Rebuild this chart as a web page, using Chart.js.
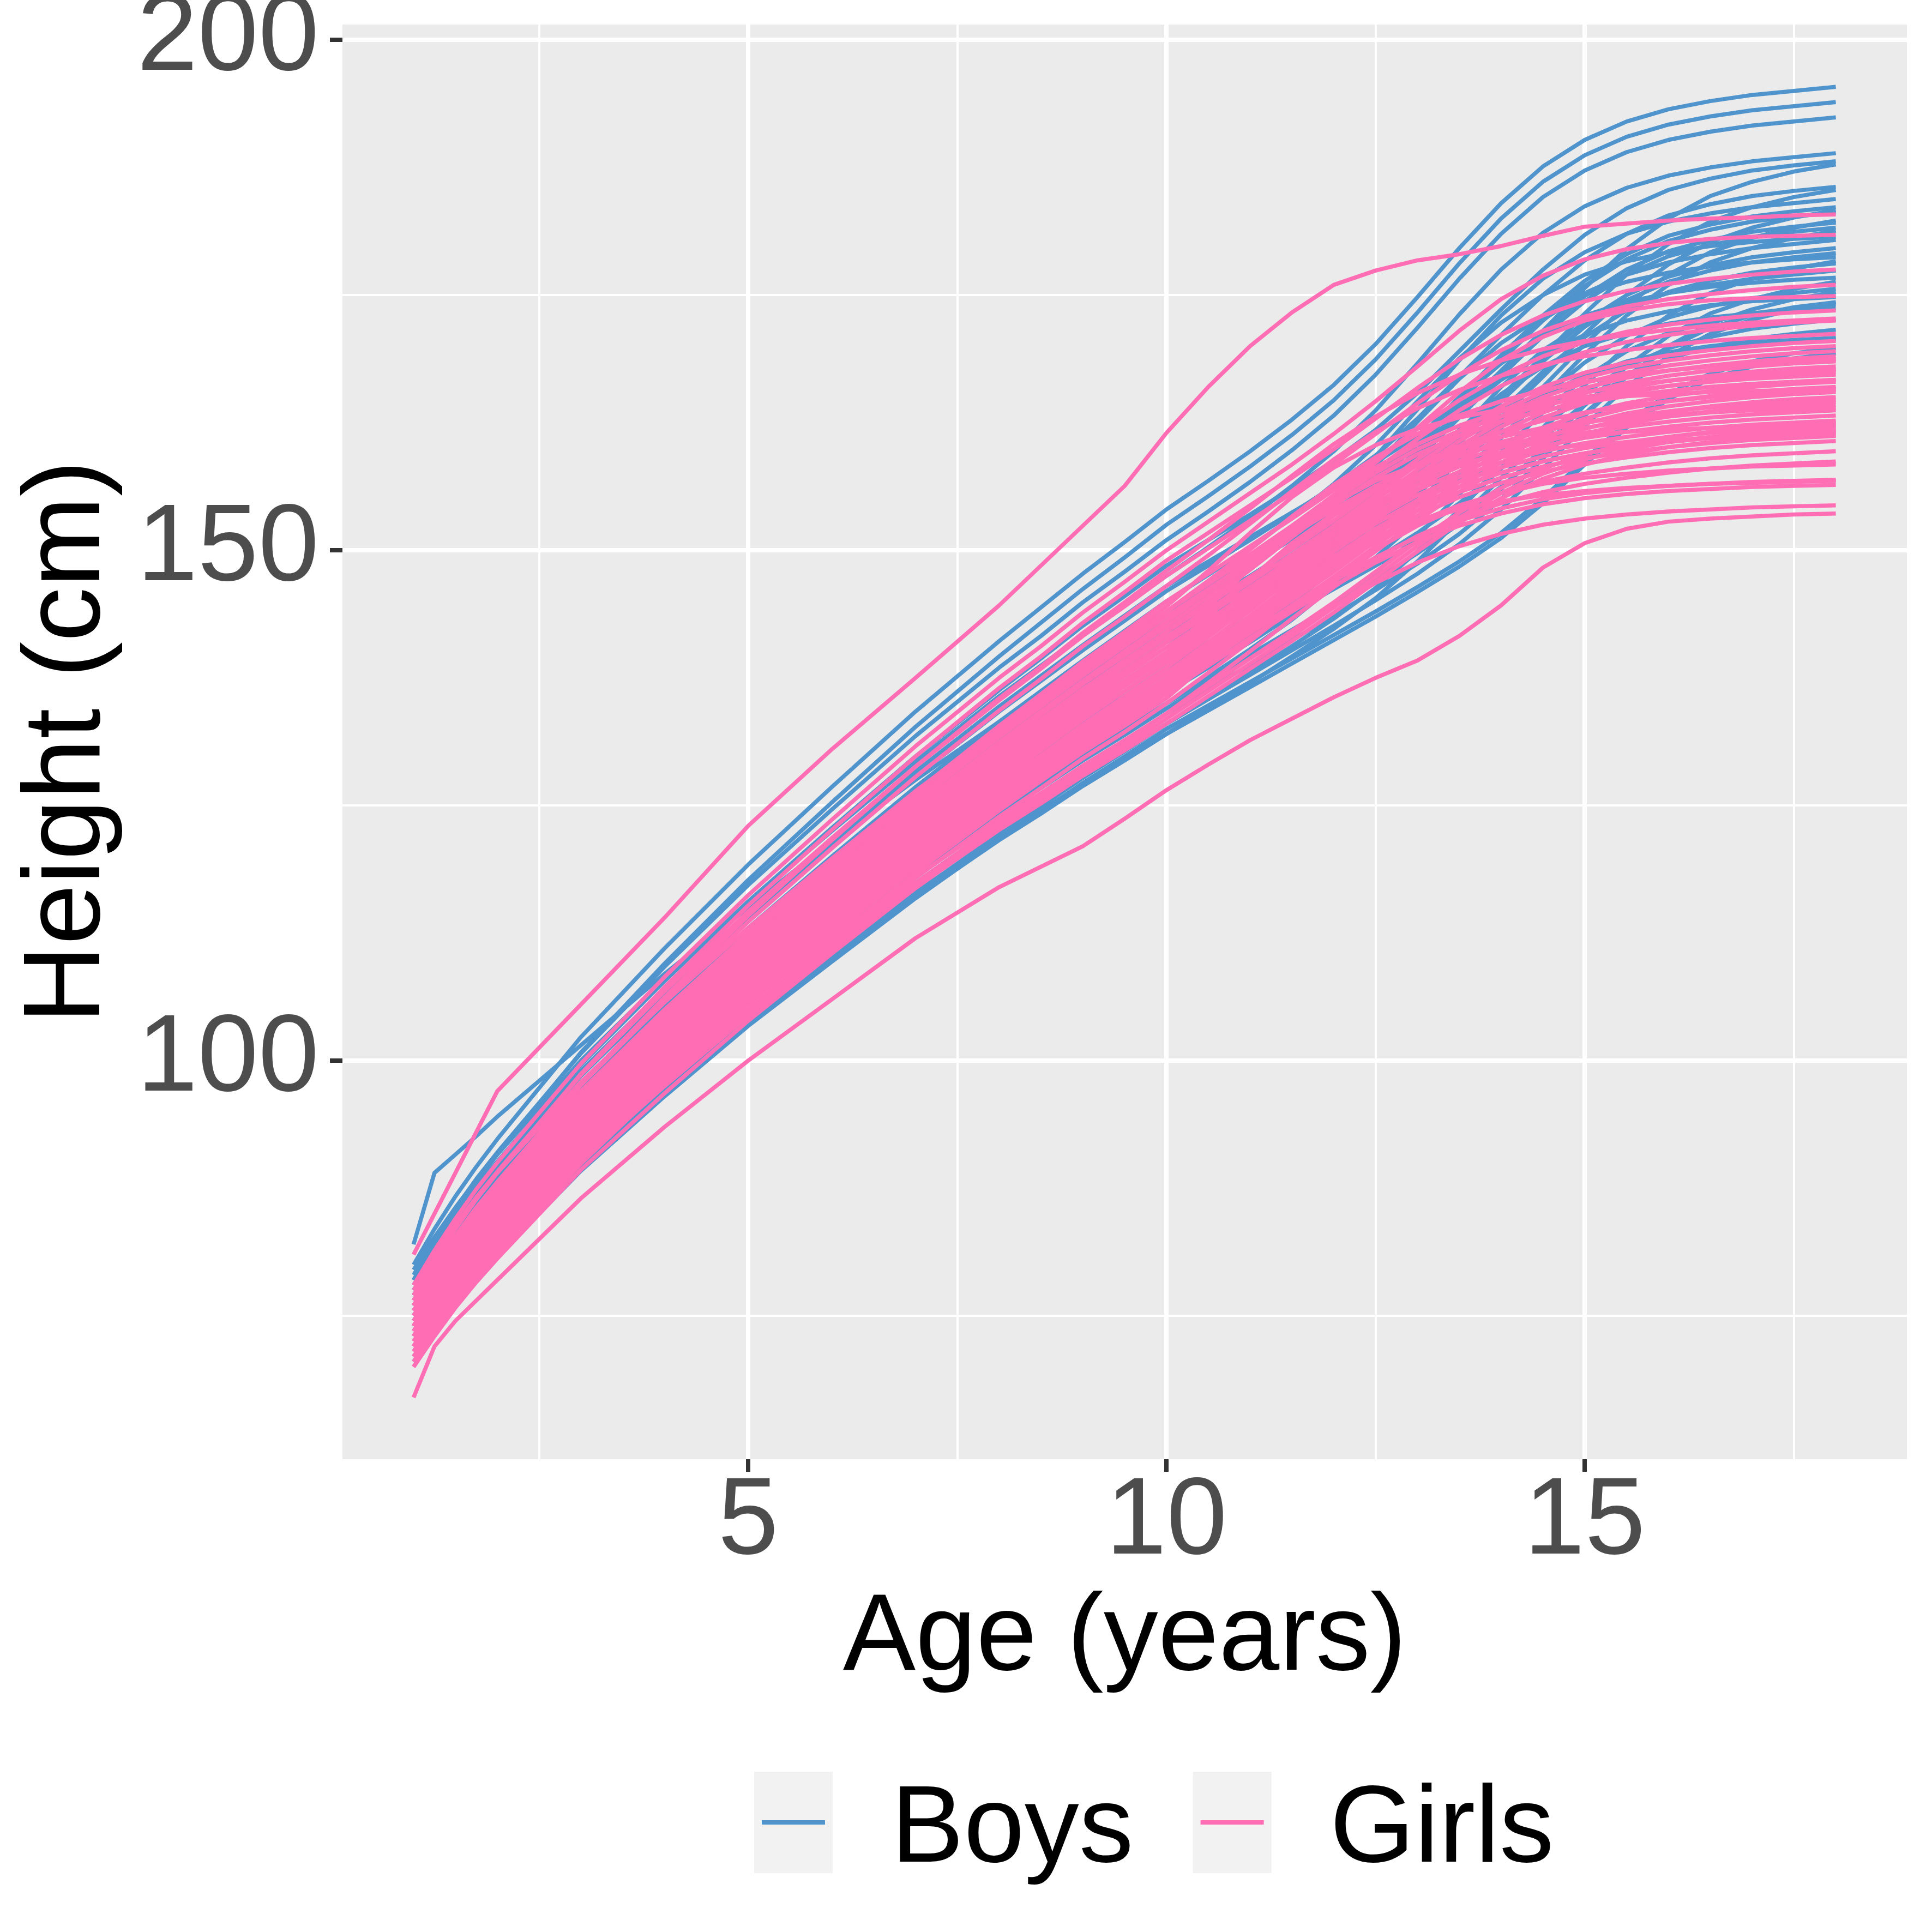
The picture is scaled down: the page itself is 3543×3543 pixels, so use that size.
<!DOCTYPE html>
<html>
<head>
<meta charset="utf-8">
<title>Height growth curves</title>
<script src="https://cdn.jsdelivr.net/npm/chart.js@4.4.1/dist/chart.umd.min.js"></script>
<style>
  html, body { margin: 0; padding: 0; background: #ffffff; }
  #growth { display: block; }
</style>
</head>
<body>
<canvas id="growth" width="3543" height="3543"></canvas>
<script>
// measurement ages (years)
const ages = [1, 1.25, 1.5, 1.75, 2, 3, 4, 5, 6, 7, 8, 8.5, 9, 9.5, 10, 10.5, 11, 11.5, 12, 12.5, 13, 13.5, 14, 14.5, 15, 15.5, 16, 16.5, 17, 17.5, 18];

// one row per boy, heights in cm
const boyHeights = [
  [80, 83.5, 86.7, 89.6, 92.3, 102.3, 111.0, 119.2, 126.8, 134.2, 141.1, 144.4, 147.7, 150.8, 154.0, 156.8, 159.7, 162.8, 166.2, 170.2, 174.8, 179.6, 184.0, 187.6, 190.2, 192.0, 193.2, 194.0, 194.6, 195.0, 195.4],
  [78.5, 82.0, 85.2, 88.1, 90.8, 100.8, 109.5, 117.7, 125.3, 132.7, 139.6, 142.9, 146.2, 149.3, 152.5, 155.3, 158.2, 161.3, 164.7, 168.7, 173.3, 178.1, 182.5, 186.1, 188.7, 190.5, 191.7, 192.5, 193.1, 193.5, 193.9],
  [79, 82.4, 85.5, 88.4, 91.0, 100.7, 109.2, 117.2, 124.6, 131.8, 138.5, 141.6, 144.9, 147.9, 151.0, 153.8, 156.7, 159.8, 163.2, 167.2, 171.8, 176.6, 181.0, 184.6, 187.2, 189.0, 190.2, 191.0, 191.6, 192.0, 192.4],
  [82, 89, 90.8, 92.6, 94.5, 101.5, 108.5, 115.0, 121.5, 127.5, 133.2, 136.0, 138.7, 141.3, 144.0, 146.5, 149.0, 151.6, 154.3, 157.3, 160.9, 165.0, 169.1, 173.0, 176.4, 179.0, 180.8, 181.9, 182.7, 183.2, 183.6],
  [78.5, 81.8, 84.8, 87.6, 90.1, 99.6, 107.8, 115.6, 122.8, 129.8, 136.3, 139.4, 142.6, 145.5, 148.5, 151.0, 153.5, 156.1, 158.8, 161.8, 165.4, 169.5, 173.6, 177.5, 180.9, 183.5, 185.3, 186.4, 187.2, 187.7, 188.1],
  [79.5, 82.7, 85.6, 88.3, 90.8, 100.0, 108.0, 115.5, 122.5, 129.3, 135.7, 138.7, 141.7, 144.6, 147.5, 150.3, 153.2, 156.3, 159.7, 163.7, 168.3, 173.1, 177.5, 181.1, 183.7, 185.5, 186.7, 187.5, 188.1, 188.5, 188.9],
  [78.5, 81.7, 84.6, 87.3, 89.8, 99.0, 107.0, 114.5, 121.5, 128.3, 134.7, 137.7, 140.7, 143.6, 146.5, 148.9, 151.3, 153.7, 156.1, 158.6, 161.2, 164.1, 167.5, 171.5, 175.7, 179.5, 182.5, 184.7, 186.1, 187.1, 187.8],
  [78, 81.2, 84.1, 86.8, 89.3, 98.5, 106.5, 114.0, 121.0, 127.8, 134.2, 137.2, 140.2, 143.1, 146.0, 148.5, 151.0, 153.6, 156.3, 159.3, 162.9, 167.0, 171.1, 175.0, 178.4, 181.0, 182.8, 183.9, 184.7, 185.2, 185.6],
  [76, 79.2, 82.1, 84.8, 87.3, 96.5, 104.5, 112.0, 119.0, 125.8, 132.2, 135.2, 138.2, 141.1, 144.0, 146.4, 148.8, 151.2, 153.6, 156.1, 158.7, 161.6, 165.0, 169.0, 173.2, 177.0, 180.0, 182.2, 183.6, 184.6, 185.3],
  [77, 80.1, 82.9, 85.6, 88.0, 96.9, 104.7, 112.0, 118.8, 125.4, 131.5, 134.4, 137.4, 140.2, 143.0, 145.8, 148.7, 151.8, 155.2, 159.2, 163.8, 168.6, 173.0, 176.6, 179.2, 181.0, 182.2, 183.0, 183.6, 184.0, 184.4],
  [76.5, 79.6, 82.4, 85.1, 87.5, 96.4, 104.2, 111.5, 118.3, 124.9, 131.0, 133.9, 136.9, 139.7, 142.5, 145.0, 147.5, 150.1, 152.8, 155.8, 159.4, 163.5, 167.6, 171.5, 174.9, 177.5, 179.3, 180.4, 181.2, 181.7, 182.1],
  [75, 78.2, 81.1, 83.8, 86.3, 95.5, 103.5, 111.0, 118.0, 124.8, 131.2, 134.2, 137.2, 140.1, 143.0, 145.6, 148.3, 151.2, 154.5, 158.3, 162.6, 166.8, 170.3, 173.0, 175.0, 176.3, 177.2, 177.8, 178.2, 178.5, 178.7],
  [76, 79.1, 81.9, 84.6, 87.0, 95.9, 103.7, 111.0, 117.8, 124.4, 130.5, 133.4, 136.4, 139.2, 142.0, 144.4, 146.8, 149.2, 151.6, 154.1, 156.7, 159.6, 163.0, 167.0, 171.2, 175.0, 178.0, 180.2, 181.6, 182.6, 183.3],
  [78, 81.0, 83.8, 86.3, 88.6, 97.3, 104.8, 111.9, 118.5, 124.9, 130.9, 133.7, 136.6, 139.2, 142.0, 144.5, 147.0, 149.6, 152.3, 155.3, 158.9, 163.0, 167.1, 171.0, 174.4, 177.0, 178.8, 179.9, 180.7, 181.2, 181.6],
  [77.5, 80.6, 83.4, 86.1, 88.5, 97.4, 105.2, 112.5, 119.3, 125.9, 132.0, 134.9, 137.9, 140.7, 143.5, 146.0, 148.5, 151.1, 153.8, 156.8, 160.4, 164.5, 168.6, 172.5, 175.9, 178.5, 180.3, 181.4, 182.2, 182.7, 183.1],
  [75, 78.1, 80.9, 83.6, 86.0, 94.9, 102.7, 110.0, 116.8, 123.4, 129.5, 132.4, 135.4, 138.2, 141.0, 143.4, 145.8, 148.2, 150.6, 153.1, 155.7, 158.6, 162.0, 166.0, 170.2, 174.0, 177.0, 179.2, 180.6, 181.6, 182.3],
  [77, 80.0, 82.8, 85.3, 87.6, 96.3, 103.8, 110.9, 117.5, 123.9, 129.9, 132.7, 135.6, 138.2, 141.0, 143.6, 146.3, 149.2, 152.5, 156.3, 160.6, 164.8, 168.3, 171.0, 173.0, 174.3, 175.2, 175.8, 176.2, 176.5, 176.7],
  [76, 79.0, 81.8, 84.3, 86.6, 95.3, 102.8, 109.9, 116.5, 122.9, 128.9, 131.7, 134.6, 137.2, 140.0, 142.5, 145.0, 147.6, 150.3, 153.3, 156.9, 161.0, 165.1, 169.0, 172.4, 175.0, 176.8, 177.9, 178.7, 179.2, 179.6],
  [74, 77.1, 79.9, 82.6, 85.0, 93.9, 101.7, 109.0, 115.8, 122.4, 128.5, 131.4, 134.4, 137.2, 140.0, 142.4, 144.8, 147.2, 149.6, 152.1, 154.7, 157.6, 161.0, 165.0, 169.2, 173.0, 176.0, 178.2, 179.6, 180.6, 181.3],
  [77.5, 80.4, 83.1, 85.6, 87.8, 96.2, 103.5, 110.4, 116.7, 122.9, 128.7, 131.4, 134.2, 136.8, 139.5, 142.0, 144.5, 147.1, 149.8, 152.8, 156.4, 160.5, 164.6, 168.5, 171.9, 174.5, 176.3, 177.4, 178.2, 178.7, 179.1],
  [75, 78.0, 80.8, 83.3, 85.6, 94.3, 101.8, 108.9, 115.5, 121.9, 127.9, 130.7, 133.6, 136.2, 139.0, 141.8, 144.7, 147.8, 151.2, 155.2, 159.8, 164.6, 169.0, 172.6, 175.2, 177.0, 178.2, 179.0, 179.6, 180.0, 180.4],
  [76, 78.9, 81.6, 84.1, 86.3, 94.7, 102.0, 108.9, 115.2, 121.4, 127.2, 129.9, 132.7, 135.3, 138.0, 140.6, 143.3, 146.2, 149.5, 153.3, 157.6, 161.8, 165.3, 168.0, 170.0, 171.3, 172.2, 172.8, 173.2, 173.5, 173.7],
  [74.5, 77.5, 80.3, 82.8, 85.1, 93.8, 101.3, 108.4, 115.0, 121.4, 127.4, 130.2, 133.1, 135.7, 138.5, 141.0, 143.5, 146.1, 148.8, 151.8, 155.4, 159.5, 163.6, 167.5, 170.9, 173.5, 175.3, 176.4, 177.2, 177.7, 178.1],
  [75, 77.9, 80.6, 83.1, 85.3, 93.7, 101.0, 107.9, 114.2, 120.4, 126.2, 128.9, 131.7, 134.3, 137.0, 139.4, 141.8, 144.2, 146.6, 149.1, 151.7, 154.6, 158.0, 162.0, 166.2, 170.0, 173.0, 175.2, 176.6, 177.6, 178.3],
  [76, 78.8, 81.4, 83.8, 86.0, 94.1, 101.1, 107.8, 114.0, 120.0, 125.6, 128.2, 130.9, 133.4, 136.0, 138.5, 141.0, 143.6, 146.3, 149.3, 152.9, 157.0, 161.1, 165.0, 168.4, 171.0, 172.8, 173.9, 174.7, 175.2, 175.6],
  [73, 76.0, 78.8, 81.3, 83.6, 92.3, 99.8, 106.9, 113.5, 119.9, 125.9, 128.7, 131.6, 134.2, 137.0, 139.3, 141.6, 143.9, 146.2, 148.5, 150.9, 153.4, 156.2, 159.6, 163.4, 167.0, 169.8, 171.8, 173.0, 173.8, 174.3],
  [74, 76.9, 79.6, 82.1, 84.3, 92.7, 100.0, 106.9, 113.2, 119.4, 125.2, 127.9, 130.7, 133.3, 136.0, 138.8, 141.7, 144.8, 148.2, 152.2, 156.8, 161.6, 166.0, 169.6, 172.2, 174.0, 175.2, 176.0, 176.6, 177.0, 177.4],
  [75, 77.8, 80.4, 82.8, 85.0, 93.1, 100.1, 106.8, 113.0, 119.0, 124.6, 127.2, 129.9, 132.4, 135.0, 137.4, 139.8, 142.2, 144.6, 147.1, 149.7, 152.6, 156.0, 160.0, 164.2, 168.0, 171.0, 173.2, 174.6, 175.6, 176.3],
  [73, 75.9, 78.6, 81.1, 83.3, 91.7, 99.0, 105.9, 112.2, 118.4, 124.2, 126.9, 129.7, 132.3, 135.0, 137.6, 140.3, 143.2, 146.5, 150.3, 154.6, 158.8, 162.3, 165.0, 167.0, 168.3, 169.2, 169.8, 170.2, 170.5, 170.7],
  [74.5, 77.3, 79.9, 82.3, 84.5, 92.6, 99.6, 106.3, 112.5, 118.5, 124.1, 126.7, 129.4, 131.9, 134.5, 137.0, 139.5, 142.1, 144.8, 147.8, 151.4, 155.5, 159.6, 163.5, 166.9, 169.5, 171.3, 172.4, 173.2, 173.7, 174.1],
  [72, 74.9, 77.6, 80.1, 82.3, 90.7, 98.0, 104.9, 111.2, 117.4, 123.2, 125.9, 128.7, 131.3, 134.0, 136.4, 138.8, 141.2, 143.6, 146.1, 148.7, 151.6, 155.0, 159.0, 163.2, 167.0, 170.0, 172.2, 173.6, 174.6, 175.3],
  [73, 75.8, 78.4, 80.8, 83.0, 91.1, 98.1, 104.8, 111.0, 117.0, 122.6, 125.2, 127.9, 130.4, 133.0, 135.5, 138.0, 140.6, 143.3, 146.3, 149.9, 154.0, 158.1, 162.0, 165.4, 168.0, 169.8, 170.9, 171.7, 172.2, 172.6],
  [72, 74.8, 77.4, 79.8, 82.0, 90.1, 97.1, 103.8, 110.0, 116.0, 121.6, 124.2, 126.9, 129.4, 132.0, 134.3, 136.6, 138.9, 141.2, 143.5, 145.9, 148.4, 151.2, 154.6, 158.4, 162.0, 164.8, 166.8, 168.0, 168.8, 169.3],
  [71, 73.9, 76.6, 79.1, 81.3, 89.7, 97.0, 103.9, 110.2, 116.4, 122.2, 124.9, 127.7, 130.3, 133.0, 135.4, 137.8, 140.2, 142.6, 145.1, 147.7, 150.6, 154.0, 158.0, 162.2, 166.0, 169.0, 171.2, 172.6, 173.6, 174.3],
  [74, 76.7, 79.2, 81.5, 83.6, 91.5, 98.3, 104.7, 110.7, 116.5, 121.9, 124.5, 127.1, 129.5, 132.0, 134.5, 137.0, 139.6, 142.3, 145.3, 148.9, 153.0, 157.1, 161.0, 164.4, 167.0, 168.8, 169.9, 170.7, 171.2, 171.6],
  [70.5, 73.4, 76.1, 78.6, 80.8, 89.2, 96.5, 103.4, 109.7, 115.9, 121.7, 124.4, 127.2, 129.8, 132.5, 134.8, 137.1, 139.4, 141.7, 144.0, 146.4, 148.9, 151.7, 155.1, 158.9, 162.5, 165.3, 167.3, 168.5, 169.3, 169.8],
  [75.5, 78.6, 81.4, 84.1, 86.5, 95.4, 103.2, 110.5, 117.3, 123.9, 130.0, 132.9, 135.9, 138.7, 141.5, 144.0, 146.6, 149.4, 152.5, 156.0, 159.8, 163.5, 166.7, 169.2, 171.1, 172.5, 173.4, 174.0, 174.4, 174.6, 174.8],
  [77, 80.2, 83.1, 85.8, 88.3, 97.5, 105.5, 113.0, 120.0, 126.8, 133.2, 136.2, 139.2, 142.1, 145.0, 147.6, 150.3, 153.2, 156.5, 160.3, 164.6, 168.8, 172.3, 175.0, 177.0, 178.3, 179.2, 179.8, 180.2, 180.5, 180.7],
  [73.5, 76.5, 79.3, 81.8, 84.1, 92.8, 100.3, 107.4, 114.0, 120.4, 126.4, 129.2, 132.1, 134.7, 137.5, 140.0, 142.6, 145.4, 148.5, 152.0, 155.8, 159.5, 162.7, 165.2, 167.1, 168.5, 169.4, 170.0, 170.4, 170.6, 170.8]
];

// one row per girl
const girlHeights = [
  [81, 85, 89, 93, 97, 105.5, 114, 123, 130.5, 137.5, 144.6, 148.5, 152.4, 156.3, 161.5, 166, 170, 173.3, 176, 177.4, 178.4, 179, 179.8, 180.8, 181.7, 182, 182.3, 182.5, 182.6, 182.8, 182.9],
  [78, 81.4, 84.5, 87.4, 90.0, 99.7, 108.2, 116.2, 123.6, 130.8, 137.5, 140.6, 143.9, 146.9, 150.0, 152.8, 155.6, 158.4, 161.4, 164.6, 168.0, 171.5, 174.6, 176.9, 178.5, 179.5, 180.1, 180.5, 180.7, 180.8, 180.9],
  [77, 80.4, 83.5, 86.4, 89.0, 98.7, 107.2, 115.2, 122.6, 129.8, 136.5, 139.6, 142.9, 145.9, 149.0, 151.7, 154.4, 157.1, 159.9, 162.9, 165.9, 168.7, 171.1, 173.0, 174.4, 175.4, 176.1, 176.6, 177.0, 177.3, 177.5],
  [77.5, 80.8, 83.8, 86.6, 89.1, 98.6, 106.8, 114.6, 121.8, 128.8, 135.3, 138.4, 141.6, 144.5, 147.5, 150.2, 152.9, 155.6, 158.4, 161.4, 164.4, 167.2, 169.6, 171.5, 172.9, 173.9, 174.6, 175.1, 175.5, 175.8, 176.0],
  [76, 79.2, 82.1, 84.8, 87.3, 96.5, 104.5, 112.0, 119.0, 125.8, 132.2, 135.2, 138.2, 141.1, 144.0, 146.8, 149.6, 152.4, 155.4, 158.6, 162.0, 165.5, 168.6, 170.9, 172.5, 173.5, 174.1, 174.5, 174.7, 174.8, 174.9],
  [75, 78.3, 81.3, 84.1, 86.6, 96.1, 104.3, 112.1, 119.3, 126.3, 132.8, 135.9, 139.1, 142.0, 145.0, 147.7, 150.4, 153.1, 155.9, 158.9, 161.9, 164.7, 167.1, 169.0, 170.4, 171.4, 172.1, 172.6, 173.0, 173.3, 173.5],
  [76, 79.4, 82.5, 85.4, 88.0, 97.7, 106.2, 114.2, 121.6, 128.8, 135.5, 138.6, 141.9, 144.9, 148.0, 151.0, 154.1, 157.3, 160.4, 163.1, 165.4, 167.2, 168.6, 169.7, 170.5, 171.1, 171.6, 172.0, 172.3, 172.5, 172.7],
  [74, 77.3, 80.3, 83.1, 85.6, 95.1, 103.3, 111.1, 118.3, 125.3, 131.8, 134.9, 138.1, 141.0, 144.0, 146.7, 149.4, 152.1, 154.9, 157.9, 160.9, 163.7, 166.1, 168.0, 169.4, 170.4, 171.1, 171.6, 172.0, 172.3, 172.5],
  [76.5, 79.8, 82.8, 85.6, 88.1, 97.6, 105.8, 113.6, 120.8, 127.8, 134.3, 137.4, 140.6, 143.5, 146.5, 149.5, 152.6, 155.8, 158.9, 161.6, 163.9, 165.7, 167.1, 168.2, 169.0, 169.6, 170.1, 170.5, 170.8, 171.0, 171.2],
  [75, 78.2, 81.1, 83.8, 86.3, 95.5, 103.5, 111.0, 118.0, 124.8, 131.2, 134.2, 137.2, 140.1, 143.0, 146.0, 149.1, 152.3, 155.4, 158.1, 160.4, 162.2, 163.6, 164.7, 165.5, 166.1, 166.6, 167.0, 167.3, 167.5, 167.7],
  [74, 77.2, 80.1, 82.8, 85.3, 94.5, 102.5, 110.0, 117.0, 123.8, 130.2, 133.2, 136.2, 139.1, 142.0, 144.7, 147.4, 150.1, 152.9, 155.9, 158.9, 161.7, 164.1, 166.0, 167.4, 168.4, 169.1, 169.6, 170.0, 170.3, 170.5],
  [76, 79.1, 81.9, 84.6, 87.0, 95.9, 103.7, 111.0, 117.8, 124.4, 130.5, 133.4, 136.4, 139.2, 142.0, 145.0, 148.1, 151.3, 154.4, 157.1, 159.4, 161.2, 162.6, 163.7, 164.5, 165.1, 165.6, 166.0, 166.3, 166.5, 166.7],
  [74.5, 77.6, 80.4, 83.1, 85.5, 94.4, 102.2, 109.5, 116.3, 122.9, 129.0, 131.9, 134.9, 137.7, 140.5, 143.2, 145.9, 148.6, 151.4, 154.4, 157.4, 160.2, 162.6, 164.5, 165.9, 166.9, 167.6, 168.1, 168.5, 168.8, 169.0],
  [75, 78.1, 80.9, 83.6, 86.0, 94.9, 102.7, 110.0, 116.8, 123.4, 129.5, 132.4, 135.4, 138.2, 141.0, 144.0, 147.1, 150.3, 153.4, 156.1, 158.4, 160.2, 161.6, 162.7, 163.5, 164.1, 164.6, 165.0, 165.3, 165.5, 165.7],
  [73, 76.2, 79.1, 81.8, 84.3, 93.5, 101.5, 109.0, 116.0, 122.8, 129.2, 132.2, 135.2, 138.1, 141.0, 143.7, 146.4, 149.1, 151.9, 154.9, 157.9, 160.7, 163.1, 165.0, 166.4, 167.4, 168.1, 168.6, 169.0, 169.3, 169.5],
  [75.5, 78.5, 81.3, 83.8, 86.1, 94.8, 102.3, 109.4, 116.0, 122.4, 128.4, 131.2, 134.1, 136.7, 139.5, 142.5, 145.6, 148.8, 151.9, 154.6, 156.9, 158.7, 160.1, 161.2, 162.0, 162.6, 163.1, 163.5, 163.8, 164.0, 164.2],
  [74, 77.1, 79.9, 82.6, 85.0, 93.9, 101.7, 109.0, 115.8, 122.4, 128.5, 131.4, 134.4, 137.2, 140.0, 143.5, 147.2, 150.7, 153.6, 155.8, 157.4, 158.5, 159.3, 159.9, 160.3, 160.6, 160.8, 161.0, 161.1, 161.2, 161.3],
  [73.5, 76.6, 79.4, 82.1, 84.5, 93.4, 101.2, 108.5, 115.3, 121.9, 128.0, 130.9, 133.9, 136.7, 139.5, 142.2, 144.9, 147.6, 150.4, 153.4, 156.4, 159.2, 161.6, 163.5, 164.9, 165.9, 166.6, 167.1, 167.5, 167.8, 168.0],
  [76, 79.0, 81.8, 84.3, 86.6, 95.3, 102.8, 109.9, 116.5, 122.9, 128.9, 131.7, 134.6, 137.2, 140.0, 143.0, 146.1, 149.3, 152.4, 155.1, 157.4, 159.2, 160.6, 161.7, 162.5, 163.1, 163.6, 164.0, 164.3, 164.5, 164.7],
  [72, 75.2, 78.1, 80.8, 83.3, 92.5, 100.5, 108.0, 115.0, 121.8, 128.2, 131.2, 134.2, 137.1, 140.0, 142.7, 145.4, 148.1, 150.9, 153.9, 156.9, 159.7, 162.1, 164.0, 165.4, 166.4, 167.1, 167.6, 168.0, 168.3, 168.5],
  [74, 77.0, 79.8, 82.3, 84.6, 93.3, 100.8, 107.9, 114.5, 120.9, 126.9, 129.7, 132.6, 135.2, 138.0, 140.7, 143.4, 146.1, 148.9, 151.9, 154.9, 157.7, 160.1, 162.0, 163.4, 164.4, 165.1, 165.6, 166.0, 166.3, 166.5],
  [75, 78.0, 80.8, 83.3, 85.6, 94.3, 101.8, 108.9, 115.5, 121.9, 127.9, 130.7, 133.6, 136.2, 139.0, 142.0, 145.1, 148.3, 151.4, 154.1, 156.4, 158.2, 159.6, 160.7, 161.5, 162.1, 162.6, 163.0, 163.3, 163.5, 163.7],
  [73, 76.0, 78.8, 81.3, 83.6, 92.3, 99.8, 106.9, 113.5, 119.9, 125.9, 128.7, 131.6, 134.2, 137.0, 139.7, 142.4, 145.1, 147.9, 150.9, 153.9, 156.7, 159.1, 161.0, 162.4, 163.4, 164.1, 164.6, 165.0, 165.3, 165.5],
  [74.5, 77.4, 80.1, 82.6, 84.8, 93.2, 100.5, 107.4, 113.7, 119.9, 125.7, 128.4, 131.2, 133.8, 136.5, 139.5, 142.6, 145.8, 148.9, 151.6, 153.9, 155.7, 157.1, 158.2, 159.0, 159.6, 160.1, 160.5, 160.8, 161.0, 161.2],
  [72.5, 75.6, 78.4, 81.1, 83.5, 92.4, 100.2, 107.5, 114.3, 120.9, 127.0, 129.9, 132.9, 135.7, 138.5, 141.5, 144.6, 147.8, 150.9, 153.6, 155.9, 157.7, 159.1, 160.2, 161.0, 161.6, 162.1, 162.5, 162.8, 163.0, 163.2],
  [75, 77.9, 80.6, 83.1, 85.3, 93.7, 101.0, 107.9, 114.2, 120.4, 126.2, 128.9, 131.7, 134.3, 137.0, 140.0, 143.1, 146.3, 149.4, 152.1, 154.4, 156.2, 157.6, 158.7, 159.5, 160.1, 160.6, 161.0, 161.3, 161.5, 161.7],
  [73, 76.1, 78.9, 81.6, 84.0, 92.9, 100.7, 108.0, 114.8, 121.4, 127.5, 130.4, 133.4, 136.2, 139.0, 141.7, 144.4, 147.1, 149.9, 152.9, 155.9, 158.7, 161.1, 163.0, 164.4, 165.4, 166.1, 166.6, 167.0, 167.3, 167.5],
  [71.5, 74.6, 77.4, 80.1, 82.5, 91.4, 99.2, 106.5, 113.3, 119.9, 126.0, 128.9, 131.9, 134.7, 137.5, 140.2, 142.9, 145.6, 148.4, 151.4, 154.4, 157.2, 159.6, 161.5, 162.9, 163.9, 164.6, 165.1, 165.5, 165.8, 166.0],
  [74, 76.9, 79.6, 82.1, 84.3, 92.7, 100.0, 106.9, 113.2, 119.4, 125.2, 127.9, 130.7, 133.3, 136.0, 138.7, 141.4, 144.1, 146.9, 149.9, 152.9, 155.7, 158.1, 160.0, 161.4, 162.4, 163.1, 163.6, 164.0, 164.3, 164.5],
  [72, 75.0, 77.8, 80.3, 82.6, 91.3, 98.8, 105.9, 112.5, 118.9, 124.9, 127.7, 130.6, 133.2, 136.0, 139.0, 142.1, 145.3, 148.4, 151.1, 153.4, 155.2, 156.6, 157.7, 158.5, 159.1, 159.6, 160.0, 160.3, 160.5, 160.7],
  [73.5, 76.5, 79.3, 81.8, 84.1, 92.8, 100.3, 107.4, 114.0, 120.4, 126.4, 129.2, 132.1, 134.7, 137.5, 140.5, 143.6, 146.8, 149.9, 152.6, 154.9, 156.7, 158.1, 159.2, 160.0, 160.6, 161.1, 161.5, 161.8, 162.0, 162.2],
  [71, 74.1, 76.9, 79.6, 82.0, 90.9, 98.7, 106.0, 112.8, 119.4, 125.5, 128.4, 131.4, 134.2, 137.0, 140.0, 143.1, 146.3, 149.4, 152.1, 154.4, 156.2, 157.6, 158.7, 159.5, 160.1, 160.6, 161.0, 161.3, 161.5, 161.7],
  [76, 78.9, 81.6, 84.1, 86.3, 94.7, 102.0, 108.9, 115.2, 121.4, 127.2, 129.9, 132.7, 135.3, 138.0, 141.0, 144.1, 147.3, 150.4, 153.1, 155.4, 157.2, 158.6, 159.7, 160.5, 161.1, 161.6, 162.0, 162.3, 162.5, 162.7],
  [72, 74.9, 77.6, 80.1, 82.3, 90.7, 98.0, 104.9, 111.2, 117.4, 123.2, 125.9, 128.7, 131.3, 134.0, 136.7, 139.4, 142.1, 144.9, 147.9, 150.9, 153.7, 156.1, 158.0, 159.4, 160.4, 161.1, 161.6, 162.0, 162.3, 162.5],
  [74, 76.8, 79.4, 81.8, 84.0, 92.1, 99.1, 105.8, 112.0, 118.0, 123.6, 126.2, 128.9, 131.4, 134.0, 137.0, 140.1, 143.3, 146.4, 149.1, 151.4, 153.2, 154.6, 155.7, 156.5, 157.1, 157.6, 158.0, 158.3, 158.5, 158.7],
  [70.5, 73.6, 76.4, 79.1, 81.5, 90.4, 98.2, 105.5, 112.3, 118.9, 125.0, 127.9, 130.9, 133.7, 136.5, 139.2, 141.9, 144.6, 147.4, 150.4, 153.4, 156.2, 158.6, 160.5, 161.9, 162.9, 163.6, 164.1, 164.5, 164.8, 165.0],
  [73, 75.8, 78.4, 80.8, 83.0, 91.1, 98.1, 104.8, 111.0, 117.0, 122.6, 125.2, 127.9, 130.4, 133.0, 135.7, 138.4, 141.1, 143.9, 146.9, 149.9, 152.7, 155.1, 157.0, 158.4, 159.4, 160.1, 160.6, 161.0, 161.3, 161.5],
  [75.5, 78.6, 81.4, 84.1, 86.5, 95.4, 103.2, 110.5, 117.3, 123.9, 130.0, 132.9, 135.9, 138.7, 141.5, 144.2, 146.9, 149.6, 152.4, 155.4, 158.4, 161.2, 163.6, 165.5, 166.9, 167.9, 168.6, 169.1, 169.5, 169.8, 170.0],
  [76.5, 79.6, 82.4, 85.1, 87.5, 96.4, 104.2, 111.5, 118.3, 124.9, 131.0, 133.9, 136.9, 139.7, 142.5, 145.5, 148.6, 151.8, 154.9, 157.6, 159.9, 161.7, 163.1, 164.2, 165.0, 165.6, 166.1, 166.5, 166.8, 167.0, 167.2],
  [77, 80.0, 82.8, 85.3, 87.6, 96.3, 103.8, 110.9, 117.5, 123.9, 129.9, 132.7, 135.6, 138.2, 141.0, 144.5, 148.2, 151.7, 154.6, 156.8, 158.4, 159.5, 160.3, 160.9, 161.3, 161.6, 161.8, 162.0, 162.1, 162.2, 162.3],
  [74, 77.3, 80.3, 83.1, 85.6, 95.1, 103.3, 111.1, 118.3, 125.3, 131.8, 134.9, 138.1, 141.0, 144.0, 147.0, 150.1, 153.3, 156.4, 159.1, 161.4, 163.2, 164.6, 165.7, 166.5, 167.1, 167.6, 168.0, 168.3, 168.5, 168.7],
  [73, 76.3, 79.3, 82.1, 84.6, 94.1, 102.3, 110.1, 117.3, 124.3, 130.8, 133.9, 137.1, 140.0, 143.0, 146.0, 149.1, 152.3, 155.4, 158.1, 160.4, 162.2, 163.6, 164.7, 165.5, 166.1, 166.6, 167.0, 167.3, 167.5, 167.7],
  [75.5, 78.7, 81.6, 84.3, 86.8, 96.0, 104.0, 111.5, 118.5, 125.3, 131.7, 134.7, 137.7, 140.6, 143.5, 146.2, 148.9, 151.5, 154.0, 156.3, 158.3, 159.9, 161.1, 162.0, 162.6, 163.0, 163.3, 163.5, 163.7, 163.8, 163.9],
  [72, 75.1, 77.9, 80.6, 83.0, 91.9, 99.7, 107.0, 113.8, 120.4, 126.5, 129.4, 132.4, 135.2, 138.0, 140.7, 143.4, 146.0, 148.5, 150.8, 152.8, 154.4, 155.6, 156.5, 157.1, 157.5, 157.8, 158.0, 158.2, 158.3, 158.4],
  [71, 74.0, 76.8, 79.3, 81.6, 90.3, 97.8, 104.9, 111.5, 117.9, 123.9, 126.7, 129.6, 132.2, 135.0, 138.0, 141.1, 144.3, 147.4, 150.1, 152.4, 154.2, 155.6, 156.7, 157.5, 158.1, 158.6, 159.0, 159.3, 159.5, 159.7],
  [70, 73.0, 75.8, 78.3, 80.6, 89.3, 96.8, 103.9, 110.5, 116.9, 122.9, 125.7, 128.6, 131.2, 134.0, 136.7, 139.4, 142.0, 144.5, 146.8, 148.8, 150.4, 151.6, 152.5, 153.1, 153.5, 153.8, 154.0, 154.2, 154.3, 154.4],
  [67, 72, 74.5, 76.5, 78.5, 86.5, 93.5, 100, 106, 112, 117, 119, 121, 123.7, 126.5, 129, 131.4, 133.5, 135.6, 137.5, 139.2, 141.6, 144.6, 148.3, 150.7, 152.1, 152.8, 153.1, 153.3, 153.5, 153.6],
  [71.5, 74.4, 77.1, 79.6, 81.8, 90.2, 97.5, 104.4, 110.7, 116.9, 122.7, 125.4, 128.2, 130.8, 133.5, 136.2, 138.9, 141.6, 144.4, 147.4, 150.4, 153.2, 155.6, 157.5, 158.9, 159.9, 160.6, 161.1, 161.5, 161.8, 162.0],
  [70, 73.1, 75.9, 78.6, 81.0, 89.9, 97.7, 105.0, 111.8, 118.4, 124.5, 127.4, 130.4, 133.2, 136.0, 138.7, 141.4, 144.0, 146.5, 148.8, 150.8, 152.4, 153.6, 154.5, 155.1, 155.5, 155.8, 156.0, 156.2, 156.3, 156.4],
  [72.5, 75.5, 78.3, 80.8, 83.1, 91.8, 99.3, 106.4, 113.0, 119.4, 125.4, 128.2, 131.1, 133.7, 136.5, 139.2, 141.9, 144.5, 147.0, 149.3, 151.3, 152.9, 154.1, 155.0, 155.6, 156.0, 156.3, 156.5, 156.7, 156.8, 156.9],
  [73.5, 76.4, 79.1, 81.6, 83.8, 92.2, 99.5, 106.4, 112.7, 118.9, 124.7, 127.4, 130.2, 132.8, 135.5, 139.0, 142.7, 146.2, 149.1, 151.3, 152.9, 154.0, 154.8, 155.4, 155.8, 156.1, 156.3, 156.5, 156.6, 156.7, 156.8],
  [76.5, 79.7, 82.6, 85.3, 87.8, 97.0, 105.0, 112.5, 119.5, 126.3, 132.7, 135.7, 138.7, 141.6, 144.5, 148.0, 151.7, 155.2, 158.1, 160.3, 161.9, 163.0, 163.8, 164.4, 164.8, 165.1, 165.3, 165.5, 165.6, 165.7, 165.8],
  [78, 81.1, 83.9, 86.6, 89.0, 97.9, 105.7, 113.0, 119.8, 126.4, 132.5, 135.4, 138.4, 141.2, 144.0, 147.0, 150.1, 153.3, 156.4, 159.1, 161.4, 163.2, 164.6, 165.7, 166.5, 167.1, 167.6, 168.0, 168.3, 168.5, 168.7],
  [72, 75.3, 78.3, 81.1, 83.6, 93.1, 101.3, 109.1, 116.3, 123.3, 129.8, 132.9, 136.1, 139.0, 142.0, 145.0, 148.1, 151.3, 154.4, 157.1, 159.4, 161.2, 162.6, 163.7, 164.5, 165.1, 165.6, 166.0, 166.3, 166.5, 166.7]
];

const groupNames = ['Boys', 'Girls'];
const groupColors = ['#4F94CD', '#FF6EB4'];

// grid positions and labelled ticks
const xGridValues = [2.5, 5, 7.5, 10, 12.5, 15, 17.5];
const xTickLabels = [5, 10, 15];
const yGridValues = [75, 100, 125, 150, 175, 200];
const yTickLabels = [100, 150, 200];

const FONT = '"Liberation Sans", Arial, Helvetica, sans-serif';
Chart.defaults.font.family = FONT;

const toPoints = heights => heights.map((h, i) => ({ x: ages[i], y: h }));

const datasets = [];
boyHeights.forEach((h, i) => {
  datasets.push({ label: groupNames[0] + ' ' + (i + 1), data: toPoints(h), borderColor: groupColors[0], order: 2 });
});
girlHeights.forEach((h, i) => {
  datasets.push({ label: groupNames[1] + ' ' + (i + 1), data: toPoints(h), borderColor: groupColors[1], order: 1 });
});

const isMajor = (list, ctx) => ctx.tick && list.includes(ctx.tick.value);

// grey panel behind the grid
const panelBackground = {
  id: 'panelBackground',
  beforeDraw(chart) {
    const { ctx, chartArea: a } = chart;
    ctx.save();
    ctx.fillStyle = '#EBEBEB';
    ctx.fillRect(a.left, a.top, a.right - a.left, a.bottom - a.top);
    ctx.restore();
  }
};

// ggplot-like legend: grey key boxes with a short line, then the label
const groupLegend = {
  id: 'groupLegend',
  afterDraw(chart) {
    const ctx = chart.ctx;
    const keyW = 144, keyH = 186, lineLen = 116, gap = 107, spacing = 109;
    const cy = 3342, baseline = 3414;
    let x = 1383;
    ctx.save();
    ctx.font = '200px ' + FONT;
    ctx.textBaseline = 'alphabetic';
    ctx.textAlign = 'left';
    groupNames.forEach((name, i) => {
      ctx.fillStyle = '#F2F2F2';
      ctx.fillRect(x, cy - keyH / 2, keyW, keyH);
      ctx.strokeStyle = groupColors[i];
      ctx.lineWidth = 8;
      ctx.beginPath();
      ctx.moveTo(x + (keyW - lineLen) / 2, cy);
      ctx.lineTo(x + (keyW + lineLen) / 2, cy);
      ctx.stroke();
      ctx.fillStyle = '#000000';
      const tx = x + keyW + gap;
      ctx.fillText(name, tx, baseline);
      x = tx + ctx.measureText(name).width + spacing;
    });
    ctx.restore();
  }
};

const chart = new Chart(document.getElementById('growth').getContext('2d'), {
  type: 'line',
  data: { datasets },
  options: {
    responsive: false,
    devicePixelRatio: 1,
    animation: false,
    parsing: false,
    normalized: true,
    layout: { padding: { left: 0, top: 45, right: 46, bottom: 0 } },
    elements: {
      line: { borderWidth: 7.5, tension: 0, fill: false, borderCapStyle: 'butt', borderJoinStyle: 'round' },
      point: { radius: 0, hoverRadius: 0 }
    },
    plugins: {
      legend: { display: false },
      tooltip: { enabled: false }
    },
    scales: {
      x: {
        type: 'linear',
        min: 0.15,
        max: 18.85,
        bounds: 'data',
        afterBuildTicks: s => { s.ticks = xGridValues.map(v => ({ value: v })); },
        afterFit: s => { s.height = 867; s.paddingLeft = 0; s.paddingRight = 0; },
        border: { display: false },
        grid: {
          color: '#FFFFFF',
          lineWidth: c => isMajor(xTickLabels, c) ? 8 : 4,
          tickLength: 23,
          tickWidth: 8,
          tickColor: c => isMajor(xTickLabels, c) ? '#333333' : 'rgba(0,0,0,0)'
        },
        ticks: {
          autoSkip: false,
          maxRotation: 0,
          padding: -25,
          color: '#4D4D4D',
          font: { size: 200 },
          callback: v => xTickLabels.includes(v) ? String(v) : ''
        },
        title: {
          display: true,
          text: 'Age (years)',
          color: '#000000',
          font: { size: 200 },
          padding: { top: 0, bottom: 416 }
        }
      },
      y: {
        type: 'linear',
        min: 60.95,
        max: 201.5,
        bounds: 'data',
        afterBuildTicks: s => { s.ticks = yGridValues.map(v => ({ value: v })); },
        afterFit: s => { s.width = 628; s.paddingTop = 0; s.paddingBottom = 0; },
        border: { display: false },
        grid: {
          color: '#FFFFFF',
          lineWidth: c => isMajor(yTickLabels, c) ? 8 : 4,
          tickLength: 23,
          tickWidth: 8,
          tickColor: c => isMajor(yTickLabels, c) ? '#333333' : 'rgba(0,0,0,0)'
        },
        ticks: {
          autoSkip: false,
          padding: 20,
          color: '#4D4D4D',
          font: { size: 200 },
          callback: v => yTickLabels.includes(v) ? String(v) : ''
        },
        title: {
          display: true,
          text: 'Height (cm)',
          color: '#000000',
          font: { size: 200 },
          padding: { top: 7, bottom: 0 }
        }
      }
    }
  },
  plugins: [panelBackground, groupLegend]
});
</script>
</body>
</html>
